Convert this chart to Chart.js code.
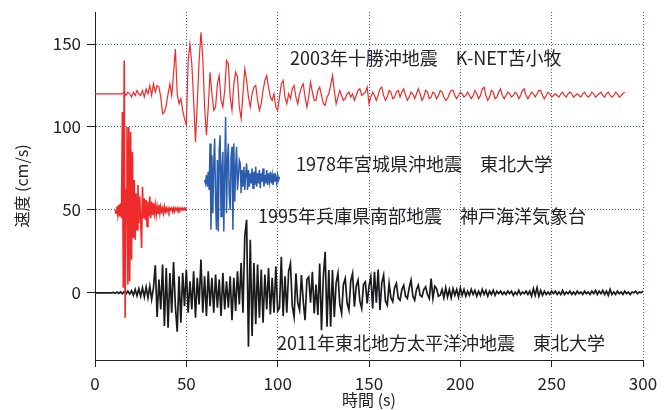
<!DOCTYPE html>
<html>
<head>
<meta charset="utf-8">
<script src="https://cdn.jsdelivr.net/npm/chart.js@4/dist/chart.umd.min.js"></script>
<style>
  html, body { margin: 0; padding: 0; background: #fff; }
</style>
</head>
<body>
<canvas id="quake" width="666" height="410"></canvas>
<script>
const xTicks = [0, 50, 100, 150, 200, 250, 300];
const yTicks = [0, 50, 100, 150];

// 2003年十勝沖地震 K-NET苫小牧 (offset +120), 1 s step from 0 s
const start2003 = 0, step2003 = 1;
const vel2003 = [
  120,120,120,120,120,120,120,120,120,120,120,120,120,120,120,120,
  121,119,121,120,118,121,119,122,120,119,122,118,123,120,125,119,126,121,
  125,124,118,108,109,113,120,126,119,132,
  147,120,114,117,110,105,101,140,150,138,
  116,91,115,140,157,142,112,95,112,133,
  120,110,112,126,131,116,112,122,140,138,
  118,110,126,133,130,112,105,120,135,128,
  118,112,120,124,125,116,110,114,122,128,
  131,124,118,116,120,112,110,118,126,128,
  118,114,120,117,123,125,118,
  114,120,124,126,118,112,118,127,121,116,
  116,122,124,119,114,113,118,120,125,131,
  122,114,118,122,119,116,117,120,121,118,
  120,116,119,122,123,119,120,121,124,114,
  118,121,119,116,119,123,124,119,116,118,
  122,121,117,118,121,122,118,121,123,119,
  116,118,121,120,117,120,123,120,116,118,
  122,121,117,118,121,120,117,119,122,121,
  118,116,117,120,122,122,119,117,119,121,
  120,118,119,121,119,117,119,122,120,117,
  119,123,124,119,116,118,122,121,117,118,
  121,123,119,117,119,121,120,118,119,121,
  120,117,119,122,123,119,117,119,121,120,
  118,120,122,122,119,117,119,121,120,118,
  119,120,119,118,120,121,119,118,120,121,
  120,118,119,120,119,118,120,121,119,118,
  119,121,120,118,119,120,121,119,118,120,
  121,119,118,119,121,120,118,119,120,121
];

// 1978年宮城県沖地震 東北大学 (offset +70), 0.5 s step from 60 s
const start1978 = 60, step1978 = 0.5;
const vel1978 = [
  68,66,71,64,73,62,90,38,83,48,
  78,93,55,38,80,37,86,95,46,75,
  85,37,72,106,48,80,90,58,50,82,
  88,38,90,55,75,88,62,70,80,78,
  60,74,64,76,62,72,78,62,74,64,
  72,66,75,63,73,65,76,64,72,66,
  74,63,72,67,75,64,71,66,74,65,
  72,67,73,66,71,65,72,67,70,66,
  71,68,70
];

// 1995年兵庫県南部地震 神戸海洋気象台 (offset +50), 0.5 s step from 11 s
const start1995 = 11, step1995 = 0.5;
const vel1995 = [
  50,48,52,47,53,46,54,45,
  109,3,140,-15,62,
  100,5,100,7,97,20,85,33,
  68,32,60,38,65,42,58,44,27,64,
  45,57,44,56,40,55,46,58,45,55,
  47,54,48,53,47,52,48,53,48,52,
  49,51,48,52,49,51,49,51,49,51,
  50,51,49,51,49,51,50,51,49,51,
  50,51,50,51,50,51,50,51
];

// 2011年東北地方太平洋沖地震 東北大学 (offset 0), 1 s step from 0 s
const start2011 = 0, step2011 = 1;
const vel2011 = [
  0,0,0,0,0,0,0,0,0,0,
  0.3,-0.3,0.5,-0.4,0.6,-0.5,0.8,-0.6,1,-0.8,1.2,
  -1.5,2,-1.8,2.5,-2,3,-2.5,3.5,-3,4,-4,3,
  16.6,-14.5,8,-10,17,-20,15,-21,12,-12,
  18.5,-8,-23.5,10,-18,12,-8,14,-12,7,
  -10,13,-15,9,-7,20,-12,10,-14,13,
  -8,9,-12,11,-9,8,-14,12,-10,7,
  -9,10,-16.5,9,-11,13,-7,18,-12,34,
  44,-32.5,32,-26,18,-19,17,-15,14,-18,
  11,-10,15,-13,9,-12,16,-11,
  -9,21.7,-14,10,-12,13,17.7,-8,-14.5,11.7,
  -6,-10.4,10.7,-5,-16.5,8,9.6,-6,12.7,-12.4,
  5,-13.4,17.7,-22.5,10,24.7,-20.5,13.7,-20.5,13.7,
  -14.5,6,11.7,-7,-12.4,5,8.6,-6,-10.4,7,
  11.7,-8.4,4,7.6,-5,-9.4,5,6.6,-6.4,4,
  9.6,-9.4,12.7,-6,14,-10.4,6,10.7,-5,-7.4,
  5.6,-3,-5.4,3,5.6,-3,-4.4,2,4.6,-2,
  -3.4,3,7.6,-2,-4.4,2,4.6,-1.5,-2.4,2,
  3.6,-1,-3.4,8.6,-3.4,4,2.6,-2,-1.4,2,
  -3,3,-2.5,2,-3,2.5,-1.5,2,-2.5,3,
  -1.5,2,-2,1,-1.5,2,-1,1.5,-2,1,
  -1.5,2,-1,1.5,-2,1,-1,1.5,-1.5,1,
  -0.5,1,-1,0.5,-1,1,-0.5,1,-1.5,0.5,
  -1,1.5,-1,0.5,-0.5,1,-1,1,-2,2.5,
  -1.5,3,-2,1.5,-1.5,1,-1,0.5,-1,1,
  -0.5,1,-1,0.5,-1,1.5,-1,0.5,-0.5,1,
  -1,0.5,-1,1,-0.5,0.5,-1,1,-0.5,0.5,
  -1,1,-0.5,1.5,-1,1,-0.5,1.5,-1,1,
  -1.5,2,-1,0.5,-1,1,-0.5,0.5,-1,1,
  -0.5,0.5,-1,0.5,0,1,-0.5,0.5,0,1
];

const notes = [
  { text: '2003年十勝沖地震　K-NET苫小牧', x: 106.7, y: 141.4 },
  { text: '1978年宮城県沖地震　東北大学', x: 110, y: 77.5 },
  { text: '1995年兵庫県南部地震　神戸海洋気象台', x: 89.2, y: 46.2 },
  { text: '2011年東北地方太平洋沖地震　東北大学', x: 99.6, y: -30.3 }
];

function series(start, step, values) {
  return values.map((v, i) => ({ x: start + i * step, y: v }));
}

const notesPlugin = {
  id: 'notes',
  afterDatasetsDraw(chart) {
    const { ctx, scales: { x, y } } = chart;
    ctx.save();
    ctx.font = '18px "Noto Sans CJK JP"';
    ctx.fillStyle = '#222';
    ctx.textBaseline = 'middle';
    notes.forEach(n => ctx.fillText(n.text, x.getPixelForValue(n.x), y.getPixelForValue(n.y)));
    ctx.restore();
  }
};

const gridColor = c => (c.tick && c.tick.value === 0) ? 'rgba(0,0,0,0)' : '#4a5cb8';

Chart.defaults.font.family = '"Noto Sans CJK JP", sans-serif';
Chart.defaults.color = '#222';

new Chart(document.getElementById('quake'), {
  type: 'line',
  data: {
    datasets: [
      { data: series(start1995, step1995, vel1995), borderColor: '#ee2a2a', borderWidth: 1.6 },
      { data: series(start2003, step2003, vel2003), borderColor: '#ee2a2a', borderWidth: 1.2 },
      { data: series(start1978, step1978, vel1978), borderColor: '#2b5cae', borderWidth: 1.5 },
      { data: series(start2011, step2011, vel2011), borderColor: '#1a1a1a', borderWidth: 1.7 }
    ]
  },
  options: {
    responsive: false,
    animation: false,
    devicePixelRatio: 1,
    layout: { padding: { top: 12, right: 23, left: 0, bottom: 0 } },
    elements: { point: { radius: 0 }, line: { tension: 0, fill: false } },
    plugins: { legend: { display: false }, tooltip: { enabled: false } },
    scales: {
      x: {
        type: 'linear',
        min: 0,
        max: 300,
        afterBuildTicks: s => { s.ticks = xTicks.map(v => ({ value: v })); },
        afterFit: s => { s.height = 50; },
        ticks: { padding: 6, maxRotation: 0, font: { size: 17 } },
        grid: { color: gridColor, lineWidth: 1, tickColor: '#222', tickLength: 7 },
        border: { color: '#222', width: 1, dash: [1, 2] },
        title: { display: true, text: '時間 (s)', font: { size: 16 }, padding: { top: 0, bottom: 0 } }
      },
      y: {
        min: -40.5,
        max: 169.3,
        afterBuildTicks: s => { s.ticks = yTicks.map(v => ({ value: v })); },
        afterFit: s => { s.width = 95; s.paddingTop = 0; s.paddingBottom = 0; },
        ticks: { padding: 6, font: { size: 17 } },
        grid: { color: gridColor, lineWidth: 1, tickColor: '#222', tickLength: 8 },
        border: { color: '#222', width: 1, dash: [1, 2] },
        title: { display: true, text: '速度 (cm/s)', font: { size: 16 }, padding: { top: 12, bottom: 0 } }
      }
    }
  },
  plugins: [notesPlugin]
});
</script>
</body>
</html>
